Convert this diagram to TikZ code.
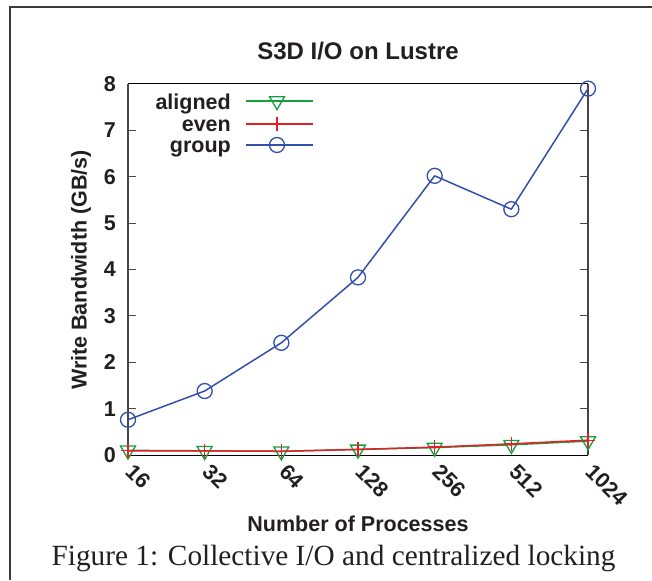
\documentclass[tikz,border=0pt]{standalone}
\usepackage{fontspec}
\usetikzlibrary{calc}
\setmainfont{Liberation Serif}
\setsansfont{Liberation Sans}
\newfontfamily\plotfont{Liberation Sans}[BoldFont={Liberation Sans Bold}]
\begin{document}
\begin{tikzpicture}[x=1pt,y=-1pt,
  txt/.style={inner sep=0pt,text=ink,font=\plotfont\bfseries\fontsize{21.5}{24}\selectfont},
  ticklab/.style={txt,anchor=east},
  xlab/.style={txt,anchor=west,rotate=-45},
  legtxt/.style={txt,anchor=base east},
  frameline/.style={draw=framegray,line width=2pt},
  border/.style={draw=black,line width=1pt},
  axisline/.style={draw=axisgray,line width=1.6pt},
  tickmark/.style={draw=axisgray,line width=1pt},
  series/.style={line width=1.5pt,line join=round},
  mk/.style={line width=1.3pt},
]
\definecolor{ink}{RGB}{35,31,32}
\definecolor{framegray}{RGB}{60,60,60}
\definecolor{axisgray}{RGB}{70,70,70}
\definecolor{cgreen}{RGB}{20,158,60}
\definecolor{cred}{RGB}{230,30,40}
\definecolor{cblue}{RGB}{50,80,170}
\useasboundingbox (0,0) rectangle (652,580);

% outer frame (open to the right and bottom)
\draw[frameline] (10,580) -- (10,7) -- (652,7);

% title
\node[txt,anchor=base,font=\plotfont\bfseries\fontsize{24}{28}\selectfont] (title) at (358,59.3) {S3D I/O on Lustre};

% plot area: x from 128 to 588, y from 455 (0) to 84 (8)
\draw[border] (128,84) -- (588,84);
\draw[border] (128,455) -- (588,455);
\draw[axisline] (128,455) -- (128,84);
\draw[axisline] (588,455) -- (588,84);

% y ticks and labels
\foreach \v in {0,...,8}{
  \pgfmathsetmacro{\yy}{455-46.375*\v}
  \node[ticklab] (yl\v) at (116,\yy) {\v};
}
\foreach \v in {1,...,7}{
  \pgfmathsetmacro{\yy}{455-46.375*\v}
  \draw[tickmark] (128,\yy) -- (136,\yy);
  \draw[tickmark] (588,\yy) -- (580,\yy);
}

% x labels
\foreach \lab [count=\i from 0] in {16,32,64,128,256,512,1024}{
  \pgfmathsetmacro{\xx}{128+76.667*\i}
  \node[xlab] (xl\i) at (\xx+2,468) {\lab};
}

% axis titles
\node[txt,rotate=90,anchor=base] (ylabel) at (86.5,270) {Write Bandwidth (GB/s)};
\node[txt,anchor=base] (xlabel) at (358,531) {Number of Processes};

% data coordinates
\foreach \val [count=\i from 0] in {0.10,0.09,0.08,0.12,0.16,0.22,0.30}{
  \coordinate (a\i) at ({128+76.667*\i},{455-46.375*\val});
}
\foreach \val [count=\i from 0] in {0.09,0.09,0.08,0.12,0.17,0.24,0.32}{
  \coordinate (e\i) at ({128+76.667*\i},{455-46.375*\val});
}
\foreach \val [count=\i from 0] in {0.76,1.38,2.42,3.83,6.02,5.30,7.90}{
  \coordinate (g\i) at ({128+76.667*\i},{455-46.375*\val});
}

% aligned
\draw[series,cgreen] (a0) -- (a1) -- (a2) -- (a3) -- (a4) -- (a5) -- (a6);
\foreach \i in {0,...,6}{
  \draw[mk,cgreen,line join=miter] ($(a\i)+(-7.5,-4.33)$) -- ($(a\i)+(7.5,-4.33)$) -- ($(a\i)+(0,8.66)$) -- cycle;
}
% even
\draw[series,cred] (e0) -- (e1) -- (e2) -- (e3) -- (e4) -- (e5) -- (e6);
\foreach \i in {0,...,6}{
  \draw[mk,cred] ($(e\i)+(-7,0)$) -- ($(e\i)+(7,0)$);
  \draw[mk,cred] ($(e\i)+(0,-7)$) -- ($(e\i)+(0,7)$);
}
% group
\draw[series,cblue] (g0) -- (g1) -- (g2) -- (g3) -- (g4) -- (g5) -- (g6);
\foreach \i in {0,...,6}{
  \draw[mk,cblue] (g\i) circle (7.5);
}

% legend
\node[legtxt] (lga) at (231,109.5) {aligned};
\node[legtxt] (lge) at (231,131.5) {even};
\node[legtxt] (lgg) at (231,152.5) {group};
\coordinate (la1) at (246,101); \coordinate (la2) at (313,101); \coordinate (lam) at (277,101);
\coordinate (le1) at (246,124); \coordinate (le2) at (313,124); \coordinate (lem) at (277,124);
\coordinate (lg1) at (246,145); \coordinate (lg2) at (313,145); \coordinate (lgm) at (277,145);
\draw[series,cgreen] (la1) -- (la2);
\draw[mk,cgreen,line join=miter] ($(lam)+(-7.5,-4.33)$) -- ($(lam)+(7.5,-4.33)$) -- ($(lam)+(0,8.66)$) -- cycle;
\draw[series,cred] (le1) -- (le2);
\draw[mk,cred] ($(lem)+(0,-7)$) -- ($(lem)+(0,7)$);
\draw[series,cblue] (lg1) -- (lg2);
\draw[mk,cblue] (lgm) circle (7.5);

% caption
\node[inner sep=0pt,anchor=base,text=ink,font=\fontsize{29.3}{34}\selectfont] (caption) at (333.5,565) {Figure 1: Collective I/O and centralized locking};
\end{tikzpicture}
\end{document}
